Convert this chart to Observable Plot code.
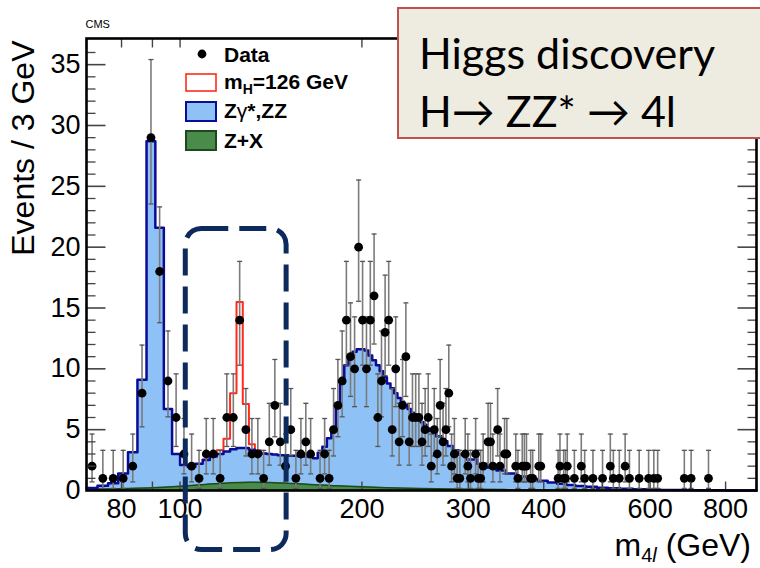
<!DOCTYPE html>
<html><head><meta charset="utf-8">
<script src="https://cdn.jsdelivr.net/npm/d3@7"></script>
<script src="https://cdn.jsdelivr.net/npm/@observablehq/plot@0.6"></script>
<style>
html,body{margin:0;padding:0;background:#fff;overflow:hidden;}
#wrap{position:relative;width:760px;height:568px;overflow:hidden;}
#higgs{position:absolute;left:397px;top:7px;width:420px;height:132px;background:#eeebe0;border:2px solid #c0504d;
  font-family:Lato,"Open Sans",sans-serif;font-size:43px;color:#000;line-height:58px;padding:15px 0 0 20px;box-sizing:border-box;z-index:5;}
</style></head><body><div id="wrap"></div>
<script>
// ---- data ----
// observed events: lower edge of 3 GeV bin, count
const dataLow = [70,73,76,79,82,85,88,91,94,97,100,103,106,109,112,115,118,121,124,127,130,133,136,139,142,145,148,151,154,157,160,163,169,172,175,178,181,184,187,190,193,196,199,202,205,208,211,214,217,220,223,226,229,232,235,238,241,244,247,250,253,256,259,262,265,268,271,274,277,280,283,286,289,295,298,301,307,310,313,316,322,325,328,334,337,343,346,358,361,367,370,373,379,382,391,394,421,424,430,433,436,448,460,466,481,499,514,520,532,544,553,574,595,607,616,682,700,748];
const dataCount = [2,1,1,1,2,8,29,18,9,6,3,2,1,3,3,1,6,6,14,5,3,3,1,4,7,4,2,5,1,3,4,3,1,3,1,5,7,9,14,11,10,20,14,10,14,16,6,9,13,14,5,10,4,7,11,4,6,6,6,4,5,6,2,5,3,7,4,5,8,2,3,1,1,3,2,1,3,1,1,2,4,4,2,5,2,3,3,2,1,2,2,2,1,1,2,2,1,2,1,1,2,1,2,1,1,1,2,1,1,2,1,1,1,1,1,1,1,1];
// error-bar ends per count
const errCount = [1,2,3,4,5,6,7,8,9,10,11,13,14,16,18,20,29];
const errLo = [0.173,0.708,1.367,2.086,2.840,3.620,4.419,5.232,6.057,6.891,7.734,9.441,10.30,12.04,13.79,15.55,23.55];
const errHi = [3.300,4.638,5.918,7.163,8.382,9.584,10.77,11.95,13.11,14.27,15.42,17.70,18.83,21.08,23.31,25.52,35.42];

// background Zgamma*,ZZ (+Z+X) histogram: bin edges and heights
const bgEdgesFine = d3.range(70, 266, 3); // 70..265
const bgEdgesCoarse = [271,277,283,289,298,310,322,334,346,361,376,391,406,421,436,451,469,490,511,535,562,592,625,661,700,745,800,900];
const bgValues = [0.2,0.4,0.6,1.4,3.15,9.1,28.7,21.6,6.7,3.0,2.1,1.95,2.2,2.5,2.8,3.0,3.2,3.4,3.5,3.5,3.35,3.2,3.05,3.0,2.95,2.9,2.9,2.85,2.85,2.8,2.8,2.75,2.65,3.1,3.6,4.3,5.0,6.8,8.8,10.3,11.0,11.4,11.6,11.6,11.5,11.1,10.7,10.3,9.8,9.3,8.8,8.4,8.0,7.6,7.3,7.0,6.7,6.4,6.1,5.9,5.6,5.4,5.1,4.9,4.7,
  4.45,4.05,3.65,3.3,2.95,2.55,2.2,1.9,1.65,1.4,1.15,0.95,0.8,0.66,0.55,0.46,0.38,0.3,0.23,0.18,0.14,0.1,0.07,0.05,0.04,0.03,0.02,0.01];
// signal mH=126 GeV stacked on background
const sigEdges = [109,112,115,118,121,124,127,130,133,136,139];
const sigValues = [2.55,2.95,3.3,4.25,8.0,15.5,7.1,3.8,3.3,3.05];
// Z+X reducible background
const zxMass = [70,80,90,100,110,120,130,140,150,160,170,180,200,220,250,300,350,400,500,600,900];
const zxValues = [0.1,0.15,0.22,0.35,0.5,0.62,0.68,0.66,0.6,0.53,0.46,0.4,0.3,0.23,0.16,0.1,0.07,0.05,0.03,0.02,0.01];

// axis ticks
const xTickLabels = [80,100,200,300,400,600,800];
const xTickMarks = [70,80,90,100,200,300,400,500,600,700,800,900];
const yTickLabels = [0,5,10,15,20,25,30,35];
const yMinor = d3.range(1, 37).filter(v => v % 5 !== 0);
const yMajor = [5,10,15,20,25,30,35];

// highlighted region (dashed box)
const hlMass = [102.2, 150.1];
const hlEvents = [-4.9, 21.5];

// ---- build tables ----
const bgEdges = bgEdgesFine.concat(bgEdgesCoarse);
const stepPts = (edges, vals) => edges.map((e, i) => ({x: e, y: vals[Math.min(i, vals.length - 1)]}));
const bgPts = stepPts(bgEdges, bgValues);
const sigPts = stepPts(sigEdges, sigValues);
const zxPts = zxMass.map((m, i) => ({x: m, y: zxValues[i]}));
const obs = dataLow.map((lo, i) => {
  const n = dataCount[i], k = errCount.indexOf(n);
  return {m: lo + 1.5, n, lo: errLo[k], hi: errHi[k]};
});

const cap = {draw(ctx){ ctx.moveTo(-2.5,0); ctx.lineTo(2.5,0); }};
const tickSym = (dx, dy) => ({draw(ctx){ ctx.moveTo(0,0); ctx.lineTo(dx,dy); }});

const blueFill = "#8ec2f6", blueLine = "#0b0b96", greenFill = "#4a8a4a", greenLine = "#1c4a1c";
const FONT = "'Liberation Sans', Arial, sans-serif";

const chart = Plot.plot({
  width: 760, height: 568,
  marginLeft: 86, marginRight: 4, marginTop: 38, marginBottom: 78,
  style: {fontFamily: FONT, fontSize: "27px", background: "white", color: "black", overflow: "visible"},
  x: {type: "log", domain: [70, 900], ticks: xTickLabels, tickFormat: d => String(d), tickSize: 0, tickPadding: 8, label: null},
  y: {domain: [0, 37.15], ticks: yTickLabels, tickFormat: d => String(d), tickSize: 0, tickPadding: 6, label: null},
  marks: [
    Plot.areaY(bgPts, {x: "x", y: "y", curve: "step-after", fill: blueFill}),
    Plot.areaY(zxPts, {x: "x", y: "y", curve: "monotone-x", fill: greenFill}),
    Plot.lineY(zxPts, {x: "x", y: "y", curve: "monotone-x", stroke: greenLine, strokeWidth: 1.5}),
    Plot.lineY(sigPts, {x: "x", y: "y", curve: "step-after", stroke: "#ff2b1c", strokeWidth: 2}),
    Plot.lineY(bgPts, {x: "x", y: "y", curve: "step-after", stroke: blueLine, strokeWidth: 2.5}),
    Plot.ruleX(obs, {x: "m", y1: "lo", y2: "hi", stroke: "#7b7b7b", strokeWidth: 1.6}),
    Plot.dot(obs, {x: "m", y: "hi", symbol: cap, r: 3, fill: "none", stroke: "#555", strokeWidth: 1.3}),
    Plot.dot(obs, {x: "m", y: "lo", symbol: cap, r: 3, fill: "none", stroke: "#555", strokeWidth: 1.3}),
    Plot.dot(obs, {x: "m", y: "n", r: 4.4, fill: "black", stroke: "none"}),
    Plot.dot(yMajor, {y: d => d, frameAnchor: "left", symbol: tickSym(19, 0), fill: "none", stroke: "#444", strokeWidth: 1.6}),
    Plot.dot(yMinor, {y: d => d, frameAnchor: "left", symbol: tickSym(9, 0), fill: "none", stroke: "#444", strokeWidth: 1.3}),
    Plot.dot(yMajor, {y: d => d, frameAnchor: "right", symbol: tickSym(-19, 0), fill: "none", stroke: "#444", strokeWidth: 1.6}),
    Plot.dot(yMinor, {y: d => d, frameAnchor: "right", symbol: tickSym(-9, 0), fill: "none", stroke: "#444", strokeWidth: 1.3}),
    Plot.dot(xTickMarks, {x: d => d, frameAnchor: "bottom", symbol: tickSym(0, -9), fill: "none", stroke: "#444", strokeWidth: 1.4}),
    Plot.dot(xTickMarks, {x: d => d, frameAnchor: "top", symbol: tickSym(0, 9), fill: "none", stroke: "#444", strokeWidth: 1.4}),
    Plot.frame({stroke: "black", strokeWidth: 2.6}),
    Plot.text(["Events / 3 GeV"], {text: d => d, frameAnchor: "top-left", rotate: -90, textAnchor: "end", lineAnchor: "bottom", dx: -53, dy: 2, fontSize: 32}),
    Plot.text(["CMS"], {text: d => d, frameAnchor: "top-left", textAnchor: "start", lineAnchor: "bottom", dx: -1, dy: -11, fontSize: 11}),
    Plot.rect([0], {x1: () => hlMass[0], x2: () => hlMass[1], y1: () => hlEvents[0], y2: () => hlEvents[1], rx: 16, fill: "none", stroke: "#0c2a5c", strokeWidth: 5, strokeDasharray: "27,11", clip: false})
  ]
});

const wrap = document.getElementById("wrap");
wrap.appendChild(chart);
const svg = d3.select(chart);

// legend
const lg = svg.append("g").attr("font-family", FONT).attr("font-weight", "bold").attr("font-size", 21).attr("text-anchor", "start");
lg.append("circle").attr("cx", 202).attr("cy", 54).attr("r", 4.4).attr("fill", "black");
lg.append("text").attr("x", 224).attr("y", 62).attr("text-anchor", "start").text("Data");
lg.append("rect").attr("x", 186).attr("y", 74).attr("width", 30).attr("height", 17).attr("fill", "white").attr("stroke", "#ff2b1c").attr("stroke-width", 1.6);
const t2 = lg.append("text").attr("x", 224).attr("y", 89).attr("text-anchor", "start");
t2.append("tspan").text("m");
t2.append("tspan").attr("font-size", 14).attr("dy", 5).text("H");
t2.append("tspan").attr("dy", -5).text("=126 GeV");
lg.append("rect").attr("x", 186).attr("y", 102).attr("width", 30).attr("height", 19).attr("fill", blueFill).attr("stroke", blueLine).attr("stroke-width", 2);
const t3 = lg.append("text").attr("x", 224).attr("y", 118).attr("text-anchor", "start");
t3.append("tspan").text("Z");
t3.append("tspan").attr("font-weight", "normal").text("γ");
t3.append("tspan").text("*,ZZ");
lg.append("rect").attr("x", 186).attr("y", 131).attr("width", 30).attr("height", 19).attr("fill", greenFill).attr("stroke", greenLine).attr("stroke-width", 2);
lg.append("text").attr("x", 224).attr("y", 148).attr("text-anchor", "start").text("Z+X");

// x-axis title
const xt = svg.append("text").attr("x", 751).attr("y", 556).attr("text-anchor", "end")
  .attr("font-family", FONT).attr("font-size", 32);
xt.append("tspan").text("m");
xt.append("tspan").attr("font-size", 20).attr("dy", 6).text("4");
xt.append("tspan").attr("font-size", 20).attr("font-style", "italic").text("l");
xt.append("tspan").attr("dy", -6).text(" (GeV)");

// annotation box
const box = document.createElement("div");
box.id = "higgs";
box.innerHTML = "Higgs discovery<br>H→ ZZ* → 4l";
wrap.appendChild(box);
</script></body></html>
